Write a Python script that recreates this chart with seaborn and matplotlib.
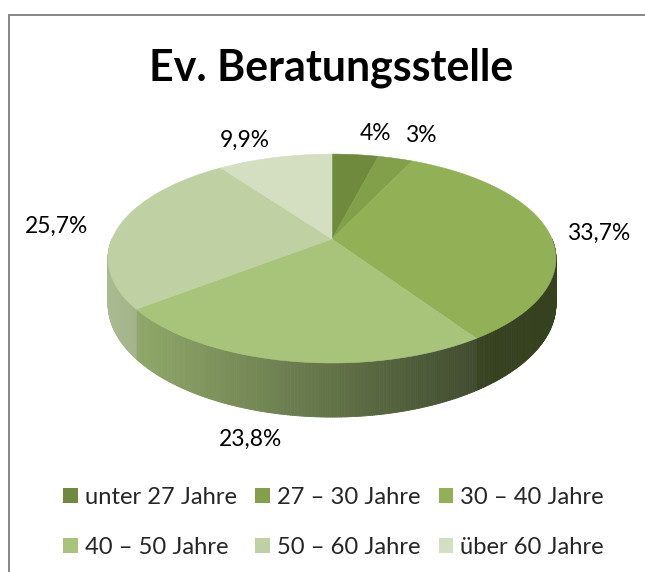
import numpy as np
import matplotlib
matplotlib.use("Agg")
import matplotlib.pyplot as plt
import seaborn as sns
from matplotlib.collections import PolyCollection
from matplotlib.patches import Polygon, Patch
import matplotlib.colors as mcolors

# ---------------- data ----------------
title = "Ev. Beratungsstelle"
categories = ["unter 27 Jahre", "27 – 30 Jahre", "30 – 40 Jahre",
              "40 – 50 Jahre", "50 – 60 Jahre", "über 60 Jahre"]
values = [4.0, 3.0, 33.7, 23.8, 25.7, 9.9]
value_labels = ["4%", "3%", "33,7%", "23,8%", "25,7%", "9,9%"]
colors = ["#6f8a3d", "#82a04a", "#92b157", "#a8c47b", "#bfd1a2", "#d4dfc2"]

# ---------------- style ----------------
sns.set_theme(style="white")
plt.rcParams['font.family'] = ['Lato', 'DejaVu Sans']

W, H = 645, 572
fig = plt.figure(figsize=(W / 100, H / 100), dpi=100)
ax = fig.add_axes([0, 0, 1, 1])
ax.set_xlim(0, W)
ax.set_ylim(H, 0)
ax.axis('off')
renderer = fig.canvas.get_renderer()


def fit_size(text, target_px, weight='normal', base=20.0):
    t = fig.text(0, 0, text, fontsize=base, fontweight=weight)
    w = t.get_window_extent(renderer).width
    t.remove()
    return base * target_px / w


title_fs = fit_size(title, 365, 'bold')
label_fs = fit_size("33,7%", 63)
legend_fs = fit_size("unter 27 Jahre", 153)

# frame (left and top border)
ax.plot([9, 9, W], [H, 15, 15], color="#878787", lw=1.4, solid_capstyle='butt',
        solid_joinstyle='miter')

# ---------------- 3D pie geometry (perspective) ----------------
cx, cy = 332, 239      # projected centre of top face
R, r, k, D = 220, 100.8, 0.187, 44


def proj(theta_deg, drop=0.0):
    t = np.radians(theta_deg)
    c, s = np.cos(t), np.sin(t)
    q = 1 + k * s
    return cx + R * c / q, cy - r * s / q + drop / q


fr = np.array(values) / np.sum(values)
edges = 90 - 360 * np.concatenate([[0], np.cumsum(fr)])


def shade(x):
    xn = (x - cx) / 224.0
    return float(np.clip(0.585 - 0.308 * xn, 0.37, 0.9))


# side walls (front half: angles between -180 and 0)
polys, fcs = [], []
for i, col in enumerate(colors):
    a_hi, a_lo = edges[i], edges[i + 1]
    lo, hi = max(a_lo, -180.0), min(a_hi, 0.0)
    if hi <= lo:
        continue
    n = max(2, int((hi - lo) / 0.5))
    angs = np.linspace(hi, lo, n + 1)
    base = np.array(mcolors.to_rgb(col))
    for a0, a1 in zip(angs[:-1], angs[1:]):
        x0, y0 = proj(a0)
        x1, y1 = proj(a1)
        x0b, y0b = proj(a0, D)
        x1b, y1b = proj(a1, D)
        polys.append([(x0, y0), (x1, y1), (x1b, y1b), (x0b, y0b)])
        f = shade((x0 + x1) / 2)
        fcs.append(tuple(base * f))
side = PolyCollection(polys, facecolors=fcs, edgecolors=fcs, linewidths=0.6,
                      zorder=2)
ax.add_collection(side)

# top face wedges
for i, col in enumerate(colors):
    angs = np.linspace(edges[i], edges[i + 1], 120)
    pts = [(cx, cy)] + [proj(a) for a in angs]
    ax.add_patch(Polygon(pts, closed=True, facecolor=col, edgecolor=col,
                         lw=0.4, zorder=3))

# ---------------- labels ----------------
label_pos = [(375, 133), (422, 136), (600, 233), (250, 439), (56, 226), (245, 140)]
for txt, (lx, ly) in zip(value_labels, label_pos):
    ax.text(lx, ly, txt, ha='center', va='center', fontsize=label_fs,
            color='#000000')

ax.text(331, 81, title, ha='center', va='baseline', fontsize=title_fs,
        fontweight='bold', color='#000000')

# ---------------- legend ----------------
fs_px = legend_fs * 100 / 72
handles = [Patch(facecolor=c, edgecolor='none') for c in colors]
order = [0, 3, 1, 4, 2, 5]
fig.legend([handles[i] for i in order], [categories[i] for i in order],
           ncol=3, loc='center left', bbox_to_anchor=(63 / W, 1 - 522.5 / H),
           frameon=False, fontsize=legend_fs,
           handlelength=14.5 / fs_px, handleheight=14.5 / fs_px,
           handletextpad=7.5 / fs_px, columnspacing=18.0 / fs_px,
           labelspacing=1.2, borderaxespad=0, borderpad=0)

fig.savefig("out.png", dpi=100)
